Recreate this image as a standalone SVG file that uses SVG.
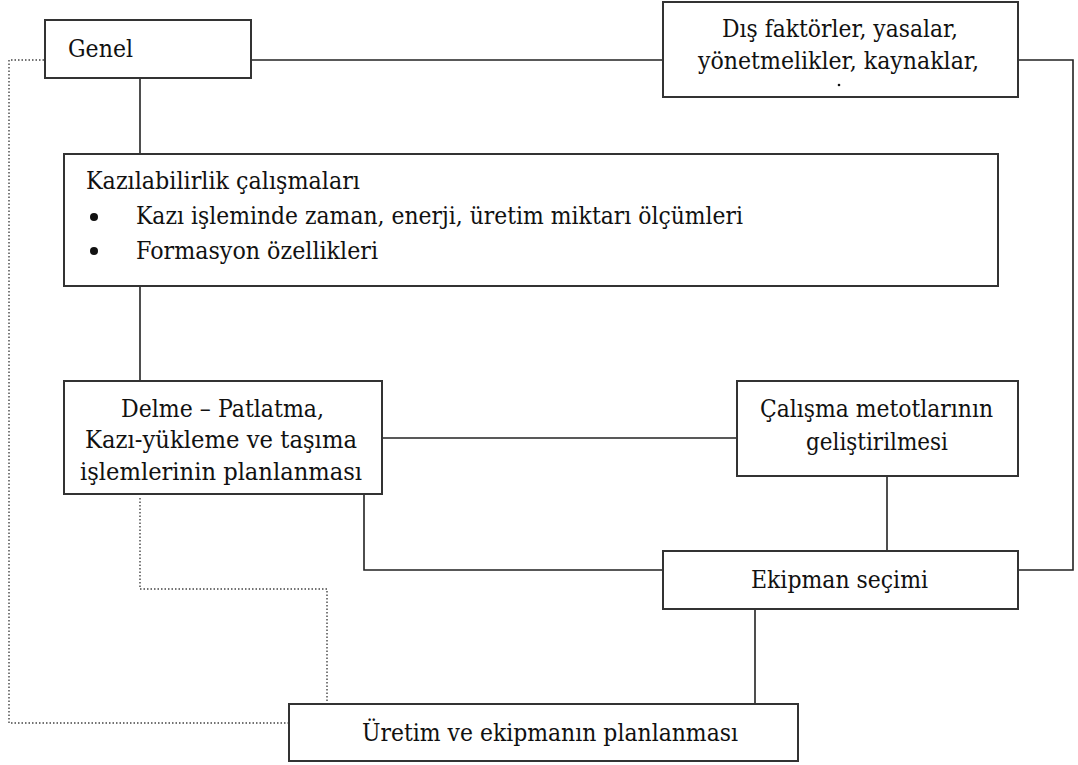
<svg xmlns="http://www.w3.org/2000/svg" width="1078" height="765" viewBox="0 0 1078 765">
<style>
.box{fill:#fff;stroke:#333;stroke-width:2}
.ln{fill:none;stroke:#222;stroke-width:1.6}
.dot{fill:none;stroke:#444;stroke-width:1.4;stroke-dasharray:1.5 2}
.t{font-family:"DejaVu Serif","Liberation Serif",Tinos,"Times New Roman",Times,serif;font-size:25px;fill:#111}
</style>
<rect width="1078" height="765" fill="#fff"/>
<g id="connectors">
<path class="ln" d="M251 60H663"/>
<path class="ln" d="M1018 60H1073V570H1018"/>
<path class="ln" d="M140 78V154"/>
<path class="ln" d="M140 286V381"/>
<path class="ln" d="M382 438H737"/>
<path class="ln" d="M364 494V570H663"/>
<path class="ln" d="M887 476V551"/>
<path class="ln" d="M755 609V704"/>
<path class="dot" d="M44 60H9V723H288"/>
<path class="dot" d="M140 498V589H327V704"/>
</g>
<g id="genel">
<rect class="box" x="45" y="20" width="206" height="58"/>
<text class="t" x="68" y="57" textLength="65" lengthAdjust="spacingAndGlyphs">Genel</text>
</g>
<g id="dis">
<rect class="box" x="663" y="2" width="355" height="95"/>
<text class="t" x="722" y="37" textLength="236" lengthAdjust="spacingAndGlyphs">Dış faktörler, yasalar,</text>
<text class="t" x="698" y="69" textLength="281" lengthAdjust="spacingAndGlyphs">yönetmelikler, kaynaklar,</text>
<circle cx="839" cy="85" r="1.3" fill="#111"/>
</g>
<g id="kazi">
<rect class="box" x="64" y="154" width="934" height="132"/>
<text class="t" x="86" y="189" textLength="274" lengthAdjust="spacingAndGlyphs">Kazılabilirlik çalışmaları</text>
<circle cx="94" cy="217" r="4" fill="#111"/>
<text class="t" x="136" y="224" textLength="607" lengthAdjust="spacingAndGlyphs">Kazı işleminde zaman, enerji, üretim miktarı ölçümleri</text>
<circle cx="94" cy="251" r="4" fill="#111"/>
<text class="t" x="136" y="259" textLength="242" lengthAdjust="spacingAndGlyphs">Formasyon özellikleri</text>
</g>
<g id="delme">
<rect class="box" x="64" y="381" width="318" height="113"/>
<text class="t" x="121" y="417" textLength="203" lengthAdjust="spacingAndGlyphs">Delme – Patlatma,</text>
<text class="t" x="85" y="448" textLength="272" lengthAdjust="spacingAndGlyphs">Kazı-yükleme ve taşıma</text>
<text class="t" x="80" y="480" textLength="282" lengthAdjust="spacingAndGlyphs">işlemlerinin planlanması</text>
</g>
<g id="calisma">
<rect class="box" x="737" y="381" width="281" height="95"/>
<text class="t" x="760" y="417" textLength="233" lengthAdjust="spacingAndGlyphs">Çalışma metotlarının</text>
<text class="t" x="806" y="450" textLength="142" lengthAdjust="spacingAndGlyphs">geliştirilmesi</text>
</g>
<g id="ekipman">
<rect class="box" x="663" y="551" width="355" height="58"/>
<text class="t" x="751" y="588" textLength="177" lengthAdjust="spacingAndGlyphs">Ekipman seçimi</text>
</g>
<g id="uretim">
<rect class="box" x="289" y="704" width="509" height="57"/>
<text class="t" x="362" y="741" textLength="376" lengthAdjust="spacingAndGlyphs">Üretim ve ekipmanın planlanması</text>
</g>
</svg>
